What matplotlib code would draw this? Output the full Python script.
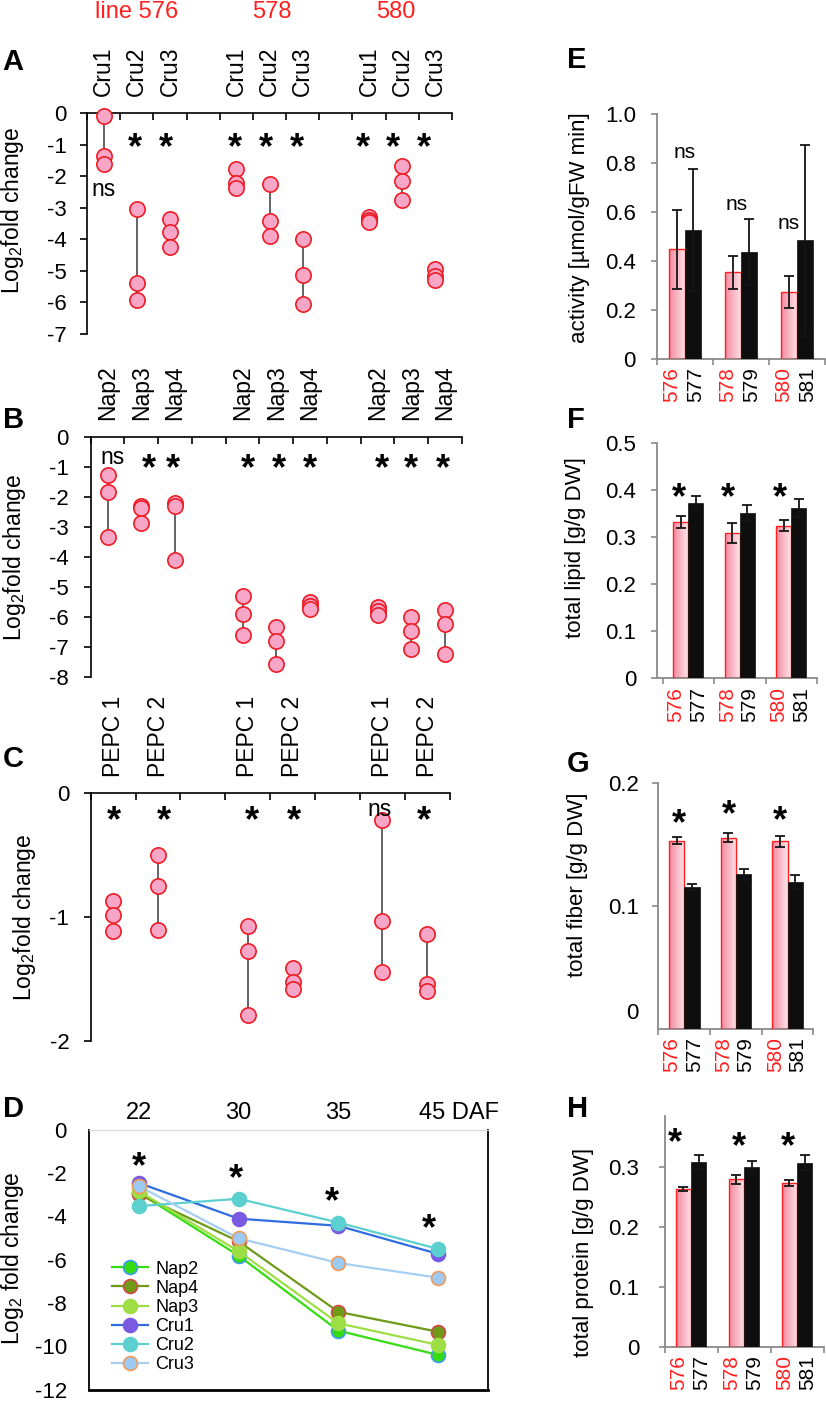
import numpy as np
import matplotlib
matplotlib.use("Agg")
import matplotlib.pyplot as plt
from matplotlib.colors import LinearSegmentedColormap

plt.rcParams['font.family'] = 'Liberation Sans'
plt.rcParams['mathtext.fontset'] = 'custom'
plt.rcParams['mathtext.rm'] = 'Liberation Sans'
plt.rcParams['mathtext.it'] = 'Liberation Sans:italic'
plt.rcParams['axes.unicode_minus'] = False

# === DATA ===
lines = ['576', '578', '580']
controls = ['577', '579', '581']

# A: Cru genes, three replicates per line
cru_genes = ['Cru1', 'Cru2', 'Cru3']
cru_576 = [[-0.10, -1.35, -1.62], [-3.05, -5.40, -5.93], [-3.37, -3.77, -4.23]]
cru_578 = [[-1.78, -2.21, -2.38], [-2.25, -3.43, -3.91], [-4.00, -5.14, -6.04]]
cru_580 = [[-3.30, -3.38, -3.45], [-1.67, -2.15, -2.74], [-4.95, -5.16, -5.29]]
cru_sig = [['ns', '*', '*'], ['*', '*', '*'], ['*', '*', '*']]

# B: Nap genes
nap_genes = ['Nap2', 'Nap3', 'Nap4']
nap_576 = [[-1.27, -1.82, -3.34], [-2.30, -2.38, -2.86], [-2.21, -2.30, -4.10]]
nap_578 = [[-5.29, -5.89, -6.60], [-6.34, -6.80, -7.58], [-5.51, -5.62, -5.73]]
nap_580 = [[-5.66, -5.80, -5.94], [-6.00, -6.46, -7.08], [-5.77, -6.23, -7.24]]
nap_sig = [['ns', '*', '*'], ['*', '*', '*'], ['*', '*', '*']]

# C: PEPC genes
pepc_genes = ['PEPC 1', 'PEPC 2']
pepc_576 = [[-0.87, -0.98, -1.11], [-0.50, -0.745, -1.10]]
pepc_578 = [[-1.07, -1.27, -1.79], [-1.41, -1.52, -1.58]]
pepc_580 = [[-0.215, -1.03, -1.44], [-1.14, -1.54, -1.60]]
pepc_sig = [['*', '*'], ['*', '*'], ['ns', '*']]

# D: time course
daf = ['22', '30', '35', '45']
time_genes = ['Nap2', 'Nap4', 'Nap3', 'Cru1', 'Cru2', 'Cru3']
time_nap2 = [-2.90, -5.81, -9.28, -10.40]
time_nap4 = [-2.98, -5.15, -8.41, -9.33]
time_nap3 = [-2.83, -5.61, -8.94, -9.94]
time_cru1 = [-2.45, -4.10, -4.43, -5.73]
time_cru2 = [-3.52, -3.18, -4.28, -5.50]
time_cru3 = [-2.60, -5.01, -6.15, -6.83]
time_sig_y = [-1.19, -1.76, -2.83, -4.10]

# E-H: transgenic line (pink) vs control (black), mean and error
activity_line = [0.448, 0.354, 0.274]
activity_line_err = [0.162, 0.067, 0.065]
activity_ctrl = [0.528, 0.438, 0.486]
activity_ctrl_err = [0.250, 0.134, 0.390]

lipid_line = [0.332, 0.308, 0.324]
lipid_line_err = [0.012, 0.021, 0.012]
lipid_ctrl = [0.373, 0.351, 0.361]
lipid_ctrl_err = [0.014, 0.017, 0.019]

fiber_line = [0.1532, 0.1557, 0.1527]
fiber_line_err = [0.0027, 0.0035, 0.0044]
fiber_ctrl = [0.1157, 0.1258, 0.1193]
fiber_ctrl_err = [0.0024, 0.0046, 0.0057]

protein_line = [0.263, 0.279, 0.273]
protein_line_err = [0.003, 0.008, 0.005]
protein_ctrl = [0.308, 0.300, 0.307]
protein_ctrl_err = [0.011, 0.010, 0.012]

# === STYLE ===
RED = '#ff1f1f'
PINK = '#f8a6c8'
EDGE = '#ee1c25'
GRAY = '#8a8a8a'
TICK_FS = 16
CAT_FS = 16.5
STAR_FS = 26
pink_grad = LinearSegmentedColormap.from_list('pinkgrad', ['#f4899f', '#fde4ea'])

W, H = 826, 1401
fig = plt.figure(figsize=(W / 100, H / 100), dpi=100)


def rect(x0, y0, x1, y1):
    return [x0 / W, 1 - y1 / H, (x1 - x0) / W, (y1 - y0) / H]


def letter(x, yc, s):
    cap = 0.716 * 21 * 100 / 72
    fig.text(x / W, 1 - (yc + cap / 2) / H, s, fontsize=21, fontweight='bold',
             ha='left', va='baseline')


def ylab(x, yc, s, fs=16.5):
    fig.text(x / W, 1 - yc / H, s, fontsize=fs, rotation=90, ha='center', va='center')


def mark(ax, x, y, s, fs_ns=16.5):
    if s == '*':
        ax.annotate('*', (x, y), xytext=(0, -0.58 * STAR_FS), textcoords='offset points',
                    ha='center', va='baseline', fontsize=STAR_FS, fontweight='bold',
                    annotation_clip=False)
    else:
        ax.annotate(s, (x, y), xytext=(0, -0.26 * fs_ns), textcoords='offset points',
                    ha='center', va='baseline', fontsize=fs_ns, annotation_clip=False)


def dot_panel(ax, groups, genes, sig, star_y, ns_y, sig_dx, ymin, pad):
    step = len(genes) + 1
    k = 0
    for gi, grp in enumerate(groups):
        for j, vals in enumerate(grp):
            x = gi * step + j + 0.5
            ax.vlines(x, min(vals), max(vals), color='#3a3a3a', lw=1.1, zorder=2)
            ax.plot([x] * len(vals), vals, 'o', ms=11, mfc=PINK, mec=EDGE, mew=1.2,
                    zorder=3, clip_on=False)
            ax.annotate(genes[j], (x, 1), xycoords=('data', 'axes fraction'),
                        xytext=(0, 12), textcoords='offset points', rotation=90,
                        ha='center', va='bottom', fontsize=CAT_FS)
            s = sig[gi][j]
            mark(ax, x + sig_dx[k], ns_y if s == 'ns' else star_y, s)
            k += 1
    ax.set_xlim(0, 3 * step - 1)
    ax.set_ylim(ymin, 0)
    ax.set_xticks(range(0, 3 * step))
    ax.set_yticks(range(0, ymin - 1, -1))
    for sp in ['bottom', 'right']:
        ax.spines[sp].set_visible(False)
    for sp in ['top', 'left']:
        ax.spines[sp].set_linewidth(1.2)
    ax.xaxis.set_ticks_position('top')
    ax.tick_params(axis='x', direction='in', length=5, width=1.2, labeltop=False)
    ax.tick_params(axis='y', direction='out', length=5, width=1.2,
                   labelsize=TICK_FS, pad=pad)


# --- A ---
axA = fig.add_axes(rect(87, 113, 452, 334))
dot_panel(axA, [cru_576, cru_578, cru_580], cru_genes, cru_sig, -0.78, -2.45,
          [0, -0.06, -0.12, -0.03, -0.12, -0.18, -0.18, -0.27, -0.36], -7, 9.5)
# --- B ---
axB = fig.add_axes(rect(90.7, 437, 462, 677))
dot_panel(axB, [nap_576, nap_578, nap_580], nap_genes, nap_sig, -0.70, -0.70,
          [0.16, 0.24, -0.06, 0.15, 0.07, 0, 0.12, 0, -0.07], -8, 11)
# --- C ---
axC = fig.add_axes(rect(90.7, 793.3, 449.7, 1041))
dot_panel(axC, [pepc_576, pepc_578, pepc_580], pepc_genes, pepc_sig, -0.135, -0.135,
          [0.02, 0.13, 0.09, 0.04, -0.07, -0.07], -2, 10.4)

for x, s in zip([137, 272, 396], ['line ' + lines[0], lines[1], lines[2]]):
    fig.text(x / W, 1 - 18.5 / H, s, color=RED, fontsize=17, ha='center', va='baseline')

# --- D ---
axD = fig.add_axes(rect(89, 1130, 488, 1389.5))
xd = np.arange(len(daf))
series = [time_nap2, time_nap4, time_nap3, time_cru1, time_cru2, time_cru3]
line_cols = ['#35dc12', '#6e9a18', '#9ede45', '#2f6ce0', '#5ccfcf', '#a6cef2']
face_cols = ['#35dc12', '#6e9a18', '#9ede45', '#7a5ae0', '#5ccfcf', '#9ccaf2']
edge_cols = ['#3a9cf0', '#d04a4a', '#9ede45', '#7a5ae0', '#5ccfcf', '#f29a5a']
for name, vals, lc, fc, ec in zip(time_genes, series, line_cols, face_cols, edge_cols):
    axD.plot(xd, vals, '-o', color=lc, lw=1.6, ms=10, mfc=fc, mec=ec, mew=1.2,
             label=name, clip_on=False)
for i, y in enumerate(time_sig_y):
    mark(axD, xd[i] - 0.03 * i, y, '*')
axD.set_xlim(-0.5, 3.5)
axD.set_ylim(-12, 0)
axD.set_yticks(range(0, -13, -2))
axD.set_xticks([])
axD.tick_params(axis='y', length=0, labelsize=TICK_FS, pad=16)
axD.spines['top'].set_color('#d8d8d8')
for sp in ['left', 'right', 'bottom']:
    axD.spines[sp].set_linewidth(1.3)
axD.spines['bottom'].set_linewidth(2)
for i, s in enumerate(daf):
    if i < len(daf) - 1:
        axD.annotate(s, (xd[i], 1), xycoords=('data', 'axes fraction'), xytext=(0, 7.7),
                     textcoords='offset points', ha='center', va='baseline', fontsize=17)
    else:
        axD.annotate(s + ' DAF', (xd[i] - 0.194, 1), xycoords=('data', 'axes fraction'),
                     xytext=(0, 7.7), textcoords='offset points', ha='left',
                     va='baseline', fontsize=17)
axD.legend(loc='upper left', bbox_to_anchor=(0.058, 0.497), frameon=False,
           fontsize=13, handlelength=2.0, handletextpad=0.4, labelspacing=0.12,
           borderpad=0, borderaxespad=0)


# --- E-H bar panels ---
def bar_panel(ax, line_v, line_e, ctrl_v, ctrl_e, sig, sig_x, sig_y, pink_off,
              black_off, width, xlim, ylim, yticks, ytl, pad):
    for g in range(3):
        xp = g + pink_off
        xb = g + black_off
        patch = ax.bar(xp, line_v[g], width, color='none', edgecolor=RED, lw=1.0,
                       zorder=3)[0]
        im = ax.imshow(np.linspace(0, 1, 64).reshape(1, -1), cmap=pink_grad,
                       extent=[xp - width / 2, xp + width / 2, 0, line_v[g]],
                       aspect='auto', origin='lower', zorder=2, interpolation='bilinear')
        im.set_clip_path(patch)
        ax.bar(xb, ctrl_v[g], width, color='#0e0e0e', edgecolor='#0e0e0e', lw=0.5,
               zorder=3)
        ax.errorbar([xp, xb], [line_v[g], ctrl_v[g]], yerr=[line_e[g], ctrl_e[g]],
                    fmt='none', ecolor='#151515', elinewidth=1.3, capsize=3.8,
                    capthick=1.3, zorder=6)
        ax.annotate(lines[g], (xp - 0.09, 0), xycoords=('data', 'axes fraction'),
                    xytext=(0, -6), textcoords='offset points', rotation=90,
                    ha='center', va='top', fontsize=15, color=RED)
        ax.annotate(controls[g], (xb + 0.05, 0), xycoords=('data', 'axes fraction'),
                    xytext=(0, -6), textcoords='offset points', rotation=90,
                    ha='center', va='top', fontsize=15)
        mark(ax, sig_x[g], sig_y[g], sig[g], fs_ns=15)
    ax.set_xlim(*xlim)
    ax.set_ylim(*ylim)
    ax.set_xticks(range(4))
    ax.set_xticklabels([])
    ax.set_yticks(yticks)
    ax.set_yticklabels(ytl)
    for sp in ['top', 'right']:
        ax.spines[sp].set_visible(False)
    for sp in ['left', 'bottom']:
        ax.spines[sp].set_color(GRAY)
        ax.spines[sp].set_linewidth(1.3)
    ax.tick_params(axis='both', direction='out', length=4, width=1.2, color=GRAY,
                   labelsize=TICK_FS)
    ax.tick_params(axis='y', pad=pad)


axE = fig.add_axes(rect(656.7, 114.3, 825, 359))
bar_panel(axE, activity_line, activity_line_err, activity_ctrl, activity_ctrl_err,
          ['ns'] * 3, [0.49, 1.416, 2.345], [0.843, 0.633, 0.555], 0.357, 0.643, 0.286,
          (0, 3), (0, 1.0), [0, 0.2, 0.4, 0.6, 0.8, 1.0],
          ['0', '0.2', '0.4', '0.6', '0.8', '1.0'], 11)

axF = fig.add_axes(rect(657.3, 442.7, 817.3, 678.5))
bar_panel(axF, lipid_line, lipid_line_err, lipid_ctrl, lipid_ctrl_err,
          ['*'] * 3, [0.317, 1.268, 2.278], [0.406] * 3, 0.346, 0.640, 0.29,
          (-0.105, 3), (0, 0.5), [0, 0.1, 0.2, 0.3, 0.4, 0.5],
          ['0', '0.1', '0.2', '0.3', '0.4', '0.5'], 11)

axG = fig.add_axes(rect(658.3, 783.3, 813.3, 1028.7))
bar_panel(axG, fiber_line, fiber_line_err, fiber_ctrl, fiber_ctrl_err,
          ['*'] * 3, [0.40, 1.362, 2.354], [0.176, 0.183, 0.178], 0.355, 0.65, 0.296,
          (0, 3), (0, 0.2), [0.1, 0.2], ['0.1', '0.2'], 10)
axG.annotate('0', (0, 0.0147), xycoords=('axes fraction', 'data'), xytext=(-14, 0),
             textcoords='offset points', ha='right', va='center_baseline',
             fontsize=TICK_FS)

axH = fig.add_axes(rect(665, 1115.7, 824, 1346.7))
bar_panel(axH, protein_line, protein_line_err, protein_ctrl, protein_ctrl_err,
          ['*'] * 3, [0.189, 1.396, 2.315], [0.357, 0.35, 0.35], 0.346, 0.635, 0.289,
          (0, 3), (0, 0.385), [0, 0.1, 0.2, 0.3], ['0', '0.1', '0.2', '0.3'], 14.4)

# --- axis titles and panel letters ---
ylab(13, 210, 'Log$_2$fold change')
ylab(15, 557, 'Log$_2$fold change')
ylab(25, 917, 'Log$_2$fold change')
ylab(13, 1258, 'Log$_2$ fold change')
ylab(580, 228, 'activity [µmol/gFW min]', 16)
ylab(576, 548, 'total lipid [g/g DW]', 16)
ylab(578, 885, 'total fiber [g/g DW]', 16)
ylab(583, 1252, 'total protein [g/g DW]', 16)

for x, y, s in [(2, 60, 'A'), (3, 418, 'B'), (3, 757, 'C'), (3, 1107, 'D'),
                (567, 58, 'E'), (567, 418, 'F'), (567, 762, 'G'), (567, 1107, 'H')]:
    letter(x, y, s)

fig.savefig('out.png', dpi=100)
